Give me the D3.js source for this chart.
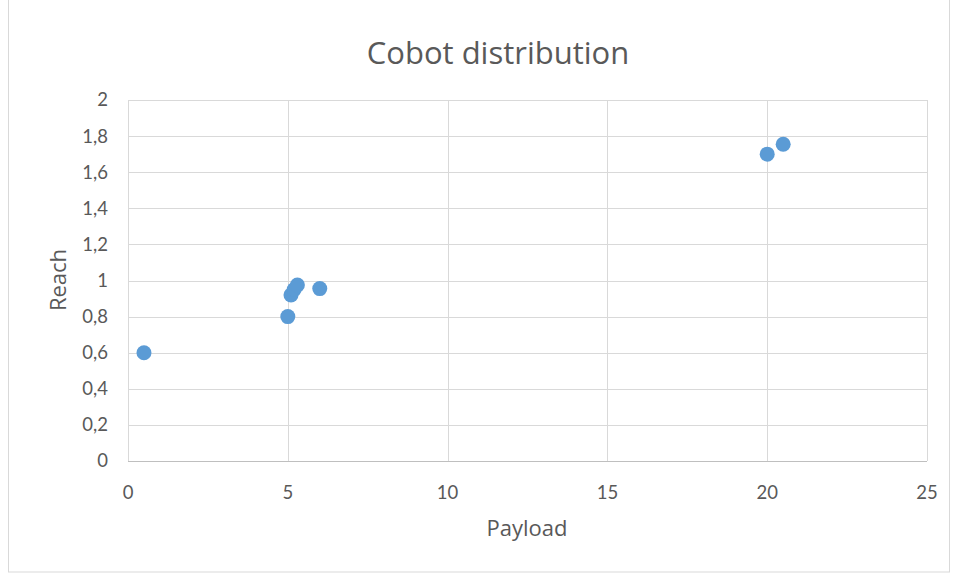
<!DOCTYPE html>
<html><head><meta charset="utf-8">
<script src="https://cdn.jsdelivr.net/npm/d3@7"></script>
<style>body{margin:0;background:#fff}svg{display:block}</style>
</head><body>
<svg id="c" width="956" height="574"></svg>
<script>
const payload = [0.5, 5.0, 5.1, 5.2, 5.3, 6.0, 20.0, 20.5];
const reach   = [0.6, 0.8, 0.92, 0.95, 0.975, 0.955, 1.7, 1.755];
const xTicks = [0, 5, 10, 15, 20, 25];
const yTicks = [0, 0.2, 0.4, 0.6, 0.8, 1, 1.2, 1.4, 1.6, 1.8, 2];
const title = "Cobot distribution";
const xTitle = "Payload", yTitle = "Reach";

const svg = d3.select("#c");
const font = "Lato, 'Open Sans', sans-serif";
const font2 = "'Open Sans', Lato, sans-serif";
const txt = "#595959";
svg.append("rect").attr("x",8.5).attr("y",-1).attr("width",941).attr("height",573)
  .attr("fill","#fff").attr("stroke","#d9d9d9");

const x = d3.scaleLinear().domain([0,25]).range([128,927]);
const y = d3.scaleLinear().domain([0,2]).range([461,100]);
const fmt = d => String(d).replace(".", ",");

svg.append("g").selectAll("line").data(yTicks.slice(1)).join("line")
  .attr("x1",x(0)).attr("x2",x(25)).attr("y1",d=>Math.round(y(d))+0.5).attr("y2",d=>Math.round(y(d))+0.5)
  .attr("stroke","#d9d9d9");
svg.append("g").selectAll("line").data(xTicks.slice(1)).join("line")
  .attr("y1",y(0)).attr("y2",y(2)).attr("x1",d=>Math.round(x(d))+0.5).attr("x2",d=>Math.round(x(d))+0.5)
  .attr("stroke","#d9d9d9");
svg.append("line").attr("x1",x(0)+0.5).attr("x2",x(0)+0.5).attr("y1",y(0)).attr("y2",y(2)).attr("stroke","#d9d9d9");
svg.append("line").attr("x1",x(0)).attr("x2",x(25)).attr("y1",Math.round(y(0))+0.5).attr("y2",Math.round(y(0))+0.5).attr("stroke","#bfbfbf");

svg.append("g").selectAll("text").data(yTicks).join("text")
  .attr("x",108).attr("y",d=>y(d)).attr("dy","0.35em").attr("text-anchor","end")
  .attr("font-family",font).attr("font-size",18.5).attr("fill",txt).text(fmt);
svg.append("g").selectAll("text").data(xTicks).join("text")
  .attr("x",d=>x(d)).attr("y",493).attr("dy","0.35em").attr("text-anchor","middle")
  .attr("font-family",font).attr("font-size",18.5).attr("fill",txt).text(fmt);

svg.append("text").attr("x",498).attr("y",53).attr("dy","0.35em").attr("text-anchor","middle")
  .attr("font-family",font2).attr("font-size",31).attr("fill",txt).text(title);
svg.append("text").attr("x",527).attr("y",528).attr("dy","0.35em").attr("text-anchor","middle")
  .attr("font-family",font2).attr("font-size",22).attr("fill",txt).text(xTitle);
svg.append("text").attr("transform","translate(58,280) rotate(-90)").attr("dy","0.35em").attr("text-anchor","middle")
  .attr("font-family",font2).attr("font-size",22).attr("fill",txt).text(yTitle);

svg.append("g").selectAll("circle").data(payload.map((p,i)=>[p,reach[i]])).join("circle")
  .attr("cx",d=>x(d[0])).attr("cy",d=>y(d[1])).attr("r",7.5).attr("fill","#5b9bd5");
</script>
</body></html>
